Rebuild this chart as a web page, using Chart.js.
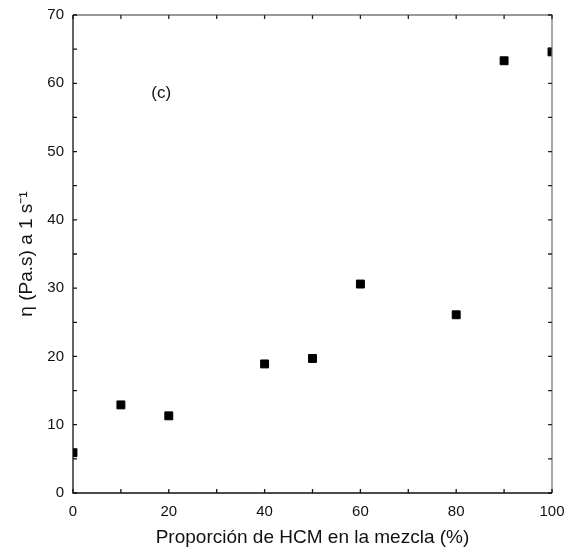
<!DOCTYPE html>
<html>
<head>
<meta charset="utf-8">
<script src="https://cdn.jsdelivr.net/npm/chart.js@4/dist/chart.umd.min.js"></script>
<style>
  html, body { margin: 0; padding: 0; background: #fff; }
  #wrap { width: 575px; height: 558px; }
</style>
</head>
<body>
<div id="wrap"><canvas id="chart" width="575" height="558"></canvas></div>
<script>
// proportion of HCM in the blend (%) and viscosity at 1 s-1
const proporcion = [0, 10, 20, 40, 50, 60, 80, 90, 100];
const viscosidad = [5.9, 12.9, 11.3, 18.9, 19.7, 30.6, 26.1, 63.3, 64.6];

const xTicksMajor = [0, 20, 40, 60, 80, 100];
const yTicksMajor = [0, 10, 20, 30, 40, 50, 60, 70];
const xTicksAll = [0, 10, 20, 30, 40, 50, 60, 70, 80, 90, 100];
const yTicksAll = [0, 5, 10, 15, 20, 25, 30, 35, 40, 45, 50, 55, 60, 65, 70];

const fontFamily = '"Liberation Sans", Arial, Helvetica, sans-serif';

// frame + inward ticks on all four sides, plus the panel letter
const frameTicks = {
  id: 'frameTicks',
  afterDraw(chart) {
    const ctx = chart.ctx;
    const a = chart.chartArea;
    const xs = chart.scales.x;
    const ys = chart.scales.y;
    const len = 4;
    ctx.save();
    ctx.lineWidth = 1.3;

    // top and right edges, lighter
    ctx.strokeStyle = '#7a7a7a';
    ctx.beginPath();
    ctx.moveTo(a.left, a.top);
    ctx.lineTo(a.right, a.top);
    ctx.lineTo(a.right, a.bottom);
    ctx.stroke();
    ctx.beginPath();
    for (const v of xTicksAll) {
      const px = xs.getPixelForValue(v);
      ctx.moveTo(px, a.top);
      ctx.lineTo(px, a.top + len);
    }
    for (const v of yTicksAll) {
      const py = ys.getPixelForValue(v);
      ctx.moveTo(a.right, py);
      ctx.lineTo(a.right - len, py);
    }
    ctx.strokeStyle = '#222';
    ctx.stroke();

    // left and bottom edges
    ctx.strokeStyle = '#111';
    ctx.beginPath();
    ctx.moveTo(a.left, a.top);
    ctx.lineTo(a.left, a.bottom);
    ctx.lineTo(a.right, a.bottom);
    ctx.stroke();
    ctx.beginPath();
    for (const v of xTicksAll) {
      const px = xs.getPixelForValue(v);
      ctx.moveTo(px, a.bottom);
      ctx.lineTo(px, a.bottom - len);
    }
    for (const v of yTicksAll) {
      const py = ys.getPixelForValue(v);
      ctx.moveTo(a.left, py);
      ctx.lineTo(a.left + len, py);
    }
    ctx.stroke();

    ctx.fillStyle = '#111';
    ctx.font = '17px ' + fontFamily;
    ctx.textAlign = 'center';
    ctx.textBaseline = 'middle';
    ctx.fillText('(c)', xs.getPixelForValue(18.4), ys.getPixelForValue(58.5));
    ctx.restore();
  }
};

new Chart(document.getElementById('chart'), {
  type: 'scatter',
  data: {
    datasets: [{
      data: proporcion.map((p, i) => ({ x: p, y: viscosidad[i] })),
      pointStyle: 'rect',
      pointRadius: 5.6,
      pointBorderWidth: 1,
      backgroundColor: '#000',
      borderColor: '#000'
    }]
  },
  options: {
    responsive: false,
    animation: false,
    layout: { padding: { left: 0, top: 15, right: 23, bottom: 0 } },
    plugins: {
      legend: { display: false },
      tooltip: { enabled: false }
    },
    scales: {
      x: {
        type: 'linear',
        min: 0,
        max: 100,
        afterFit(scale) {
          scale.height = 65;
          scale.paddingLeft = 0;
          scale.paddingRight = 0;
        },
        afterBuildTicks(scale) { scale.ticks = xTicksMajor.map(v => ({ value: v })); },
        grid: { display: false, drawTicks: false },
        border: { display: false },
        ticks: {
          color: '#111',
          padding: 10,
          maxRotation: 0,
          font: { family: fontFamily, size: 15 }
        },
        title: {
          display: true,
          text: 'Proporción de HCM en la mezcla (%)',
          color: '#111',
          padding: { top: 4, bottom: 8.6 },
          font: { family: fontFamily, size: 19 }
        }
      },
      y: {
        type: 'linear',
        min: 0,
        max: 70,
        afterFit(scale) {
          scale.width = 73;
          scale.paddingTop = 0;
          scale.paddingBottom = 0;
        },
        afterBuildTicks(scale) { scale.ticks = yTicksMajor.map(v => ({ value: v })); },
        grid: { display: false, drawTicks: false },
        border: { display: false },
        ticks: {
          color: '#111',
          padding: 9,
          font: { family: fontFamily, size: 15 }
        },
        title: {
          display: true,
          text: 'η (Pa.s) a 1 s⁻¹',
          color: '#111',
          padding: { top: 15.6, bottom: 4 },
          font: { family: fontFamily, size: 19 }
        }
      }
    }
  },
  plugins: [frameTicks]
});
</script>
</body>
</html>
